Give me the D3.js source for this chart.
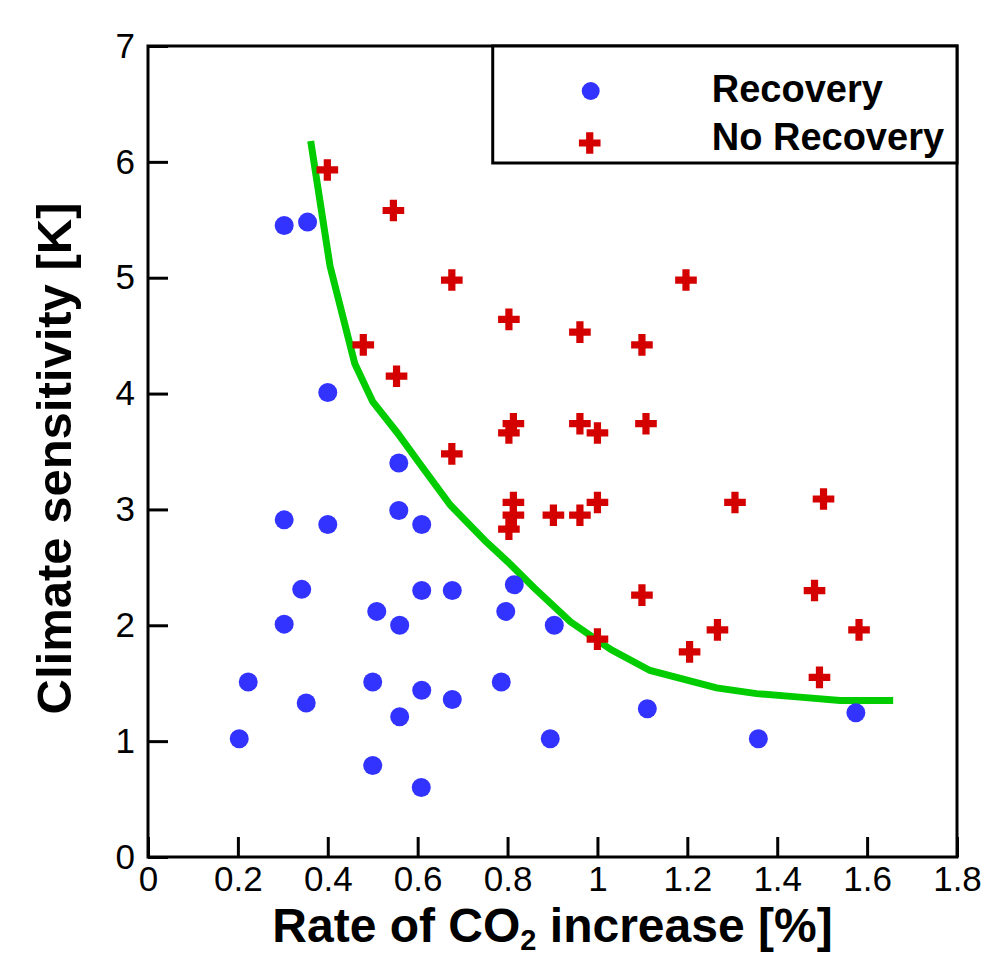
<!DOCTYPE html>
<html>
<head>
<meta charset="utf-8">
<script src="https://cdn.jsdelivr.net/npm/d3@7"></script>
<style>
  body { margin: 0; background: #fff; }
  text { font-family: "Liberation Sans", Arial, Helvetica, sans-serif; }
</style>
</head>
<body>
<div class="svg-container"></div>
<script>
// Recovery runs (blue dots)
var recX = [0.203, 0.223, 0.303, 0.355, 0.303, 0.303, 0.342, 0.352, 0.40, 0.40,
            0.50, 0.50, 0.509, 0.558, 0.558, 0.560, 0.560, 0.609, 0.609, 0.609,
            0.608, 0.677, 0.677, 0.786, 0.796, 0.815, 0.895, 0.904, 1.111, 1.358, 1.575];
var recY = [1.02, 1.51, 5.45, 5.48, 2.91, 2.01, 2.31, 1.33, 4.01, 2.87,
            1.51, 0.79, 2.12, 3.40, 2.99, 2.00, 1.21, 2.87, 2.30, 1.44,
            0.60, 2.30, 1.36, 1.51, 2.12, 2.35, 1.02, 2.00, 1.28, 1.02, 1.245];

// No recovery runs (red crosses)
var noRecX = [0.399, 0.546, 0.479, 0.553, 0.676, 0.676, 0.803, 0.813, 0.803, 0.813,
              0.813, 0.803, 0.902, 0.961, 0.961, 0.961, 1.0, 1.0, 1.0, 1.099,
              1.108, 1.099, 1.197, 1.205, 1.267, 1.306, 1.483, 1.494, 1.503, 1.582];
var noRecY = [5.93, 5.58, 4.42, 4.15, 4.98, 3.48, 4.64, 3.74, 3.66, 3.06,
              2.95, 2.83, 2.95, 4.53, 3.74, 2.95, 3.66, 3.06, 1.88, 4.42,
              3.74, 2.26, 4.98, 1.77, 1.96, 3.06, 2.30, 1.55, 3.09, 1.96];

// Threshold curve (green)
var curveX = [0.362, 0.405, 0.46, 0.50, 0.555, 0.60, 0.672, 0.75, 0.80, 0.86,
              0.94, 1.03, 1.117, 1.265, 1.354, 1.45, 1.54, 1.658];
var curveY = [6.18, 5.10, 4.26, 3.93, 3.66, 3.42, 3.04, 2.73, 2.55, 2.32,
              2.03, 1.79, 1.61, 1.46, 1.41, 1.38, 1.35, 1.35];

var xTicks = [0, 0.2, 0.4, 0.6, 0.8, 1, 1.2, 1.4, 1.6, 1.8];
var yTicks = [0, 1, 2, 3, 4, 5, 6, 7];
var legendLabels = ["Recovery", "No Recovery"];

var margin = {top: 46, right: 31, bottom: 98, left: 148},
    width = 988 - margin.left - margin.right,
    height = 955 - margin.top - margin.bottom;

var svg = d3.select(".svg-container").append("svg")
    .attr("width", 988)
    .attr("height", 955)
  .append("g")
    .attr("transform", "translate(" + margin.left + "," + margin.top + ")");

var xScale = d3.scaleLinear().domain([0, 1.8]).range([0, width]);
var yScale = d3.scaleLinear().domain([0, 7]).range([height, 0]);

var recData = recX.map(function(d, i) { return {x: d, y: recY[i]}; });
var noRecData = noRecX.map(function(d, i) { return {x: d, y: noRecY[i]}; });
var curveData = curveX.map(function(d, i) { return {x: d, y: curveY[i]}; });

var fmt = function(d) { return String(+d.toFixed(1)); };

// Axes (ticks pointing inwards)
var xaxis = d3.axisBottom(xScale).tickValues(xTicks).tickFormat(fmt)
    .tickSize(-20).tickPadding(9);
var yaxis = d3.axisLeft(yScale).tickValues(yTicks).tickFormat(fmt)
    .tickSize(-20).tickPadding(13);

var gx = svg.append("g")
    .attr("transform", "translate(0," + height + ")")
    .call(xaxis);
var gy = svg.append("g").call(yaxis);

[gx, gy].forEach(function(g) {
    g.select(".domain").remove();
    g.selectAll(".tick line").attr("stroke", "#000").attr("stroke-width", 3);
    g.selectAll(".tick text")
        .attr("fill", "#000")
        .style("font-size", "35px")
        .style("font-family", "'Liberation Sans', Arial, sans-serif");
});

// Frame
svg.append("rect")
    .attr("x", 0).attr("y", 0)
    .attr("width", width).attr("height", height)
    .attr("fill", "none")
    .attr("stroke", "#000")
    .attr("stroke-width", 3);

// Curve
var line = d3.line()
    .x(function(d) { return xScale(d.x); })
    .y(function(d) { return yScale(d.y); });

svg.append("path")
    .datum(curveData)
    .attr("fill", "none")
    .attr("stroke", "#00cc00")
    .attr("stroke-width", 7)
    .attr("d", line);

// Recovery dots
svg.append("g")
    .selectAll("circle")
    .data(recData)
    .enter()
    .append("circle")
        .attr("cx", function(d) { return xScale(d.x); })
        .attr("cy", function(d) { return yScale(d.y); })
        .attr("r", 9.5)
        .attr("fill", "#3333ff");

// No recovery crosses
var cross = d3.symbol().type(d3.symbolCross).size(260);
svg.append("g")
    .selectAll("path")
    .data(noRecData)
    .enter()
    .append("path")
        .attr("transform", function(d) {
            return "translate(" + xScale(d.x) + "," + yScale(d.y) + ")";
        })
        .attr("d", cross)
        .attr("fill", "#d40000");

// Axis titles
var xt = svg.append("text")
    .attr("x", width / 2)
    .attr("y", height + 85)
    .attr("text-anchor", "middle")
    .style("font-size", "48px")
    .style("font-weight", "bold");
xt.append("tspan").text("Rate of CO");
xt.append("tspan").text("2").style("font-size", "29px").attr("dy", 8);
xt.append("tspan").text(" increase [%]").attr("dy", -8);

svg.append("text")
    .attr("transform", "translate(" + (-77) + "," + (height / 2 + 7) + ") rotate(-90)")
    .attr("text-anchor", "middle")
    .style("font-size", "49px")
    .style("font-weight", "bold")
    .text("Climate sensitivity [K]");

// Legend
var legend = svg.append("g")
    .attr("transform", "translate(" + (xScale(0.767)) + ",0)");

legend.append("rect")
    .attr("x", 0).attr("y", 0)
    .attr("width", width - xScale(0.767))
    .attr("height", 117)
    .attr("fill", "#fff")
    .attr("stroke", "#000")
    .attr("stroke-width", 3);

legend.append("circle")
    .attr("cx", 98).attr("cy", 45)
    .attr("r", 9)
    .attr("fill", "#3333ff");

legend.append("path")
    .attr("transform", "translate(97,97)")
    .attr("d", cross)
    .attr("fill", "#d40000");

legend.selectAll("text")
    .data(legendLabels)
    .enter()
    .append("text")
        .attr("x", 219)
        .attr("y", function(d, i) { return 56 + i * 48; })
        .style("font-size", "38px")
        .style("font-weight", "bold")
        .text(function(d) { return d; });
</script>
</body>
</html>
